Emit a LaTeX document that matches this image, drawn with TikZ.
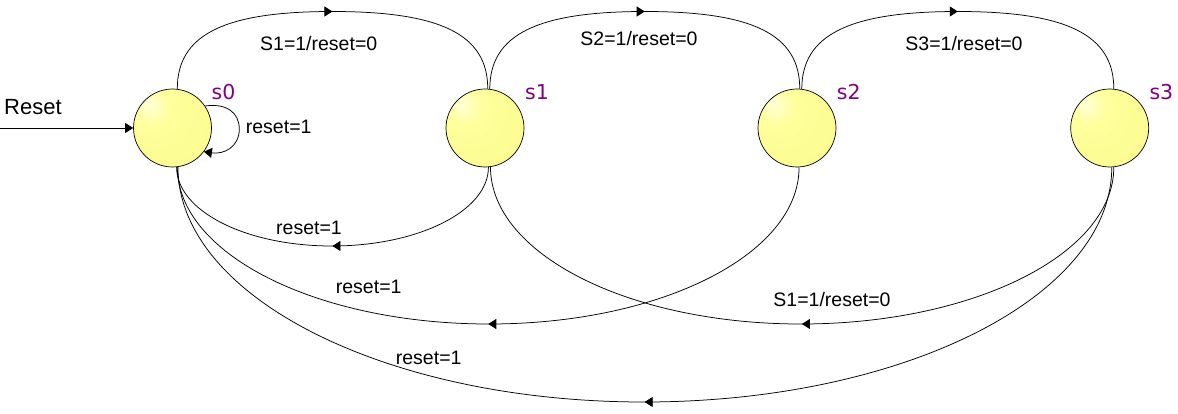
\documentclass[tikz,border=0pt]{standalone}
\usepackage{fontspec}
\setmainfont{Liberation Sans}
\newfontfamily\statefont{DejaVu Sans}
\usetikzlibrary{arrows.meta,decorations.markings}
\definecolor{stA}{HTML}{FFFF9C}
\definecolor{stB}{HTML}{F6F67E}
\definecolor{stlab}{HTML}{800080}
\pgfdeclareradialshading{stateball}{\pgfpoint{-16bp}{16bp}}{color(0bp)=(white!60!stA); color(12bp)=(stA); color(40bp)=(stA!60!stB); color(66bp)=(stB)}
\begin{document}
\begin{tikzpicture}[x=1pt,y=-1pt,
  state/.style={circle, draw=black, line width=0.7pt, minimum size=78pt, inner sep=0pt, shading=stateball},
  edge/.style={draw, line width=0.75pt},
  tip/.style={-{Triangle[length=8pt,width=10pt]}},
  midarrow/.style={postaction={decorate}, decoration={markings, mark=at position 0.5 with {\arrow{Triangle[length=8pt,width=10pt]}}}},
  lab/.style={font=\fontsize{19.5}{22}\selectfont, inner sep=0pt, anchor=base},
  slab/.style={font=\statefont\fontsize{20.5}{24}\selectfont, text=stlab, inner sep=0pt, anchor=base west}]
\path[use as bounding box] (0,0) rectangle (1178,414);

% states
\node[state] (s0) at (172.5,128) {};
\node[state] (s1) at (485,128) {};
\node[state] (s2) at (797,128) {};
\node[state] (s3) at (1109.7,128) {};
\node[slab] (l0) at (211.5,99.3) {s0};
\node[slab] (l1) at (525,99.3) {s1};
\node[slab] (l2) at (836.7,99.3) {s2};
\node[slab] (l3) at (1149.3,99.3) {s3};

% reset input
\coordinate (rin) at (0,128);
\draw[edge,tip] (rin) -- (s0);
\node[font=\fontsize{22}{26}\selectfont, anchor=base west, inner sep=0pt] (rl) at (4,115) {Reset};

% top arcs
\coordinate (t01) at (332.3,11.5);
\coordinate (t12) at (644.8,11.5);
\coordinate (t23) at (957.9,11.5);
\draw[edge,midarrow] (s0.83) .. controls +(0,-54) and +(-109,0) .. (t01) .. controls +(109,0) and +(0,-54) .. (s1.86);
\draw[edge,midarrow] (s1.83) .. controls +(0,-54) and +(-108.5,0) .. (t12) .. controls +(108.5,0) and +(0,-54) .. (s2.86);
\draw[edge,midarrow] (s2.83) .. controls +(0,-54) and +(-109,0) .. (t23) .. controls +(109,0) and +(0,-54) .. (s3.84);

% self loop
\coordinate (lp) at (239.3,129);
\draw[edge,tip] (s0.34) .. controls +(22,-3) and +(0,-16) .. (lp) .. controls +(0,18) and +(20,3) .. (s0.-37);

% bottom arcs
\coordinate (b10) at (332,246);
\coordinate (b20) at (489,324);
\coordinate (b30) at (644,402);
\coordinate (b31) at (801,324);
\draw[edge,midarrow] (s1.-85) .. controls +(0,44) and +(86,0) .. (b10) .. controls +(-86,0) and +(0,44) .. (s0.-84);
\draw[edge,midarrow] (s2.-87) .. controls +(0,87) and +(172,0) .. (b20) .. controls +(-172,0) and +(0,87) .. (s0.-83);
\draw[edge,midarrow] (s3.-87) .. controls +(0,130) and +(258,0) .. (b30) .. controls +(-258,0) and +(0,130) .. (s0.-82);
\draw[edge,midarrow] (s3.-84) .. controls +(0,87) and +(172,0) .. (b31) .. controls +(-172,0) and +(0,87) .. (s1.-82);

% edge labels
\node[lab] (e01) at (318.7,50.7) {S1=1/reset=0};
\node[lab] (e12) at (639,45.7) {S2=1/reset=0};
\node[lab] (e23) at (964,50.7) {S3=1/reset=0};
\node[lab] (e00) at (278.7,133.3) {reset=1};
\node[lab] (e10) at (309,234) {reset=1};
\node[lab] (e20) at (368.7,293.3) {reset=1};
\node[lab] (e30) at (428.7,364) {reset=1};
\node[lab] (e31) at (832,306) {S1=1/reset=0};
\end{tikzpicture}
\end{document}
